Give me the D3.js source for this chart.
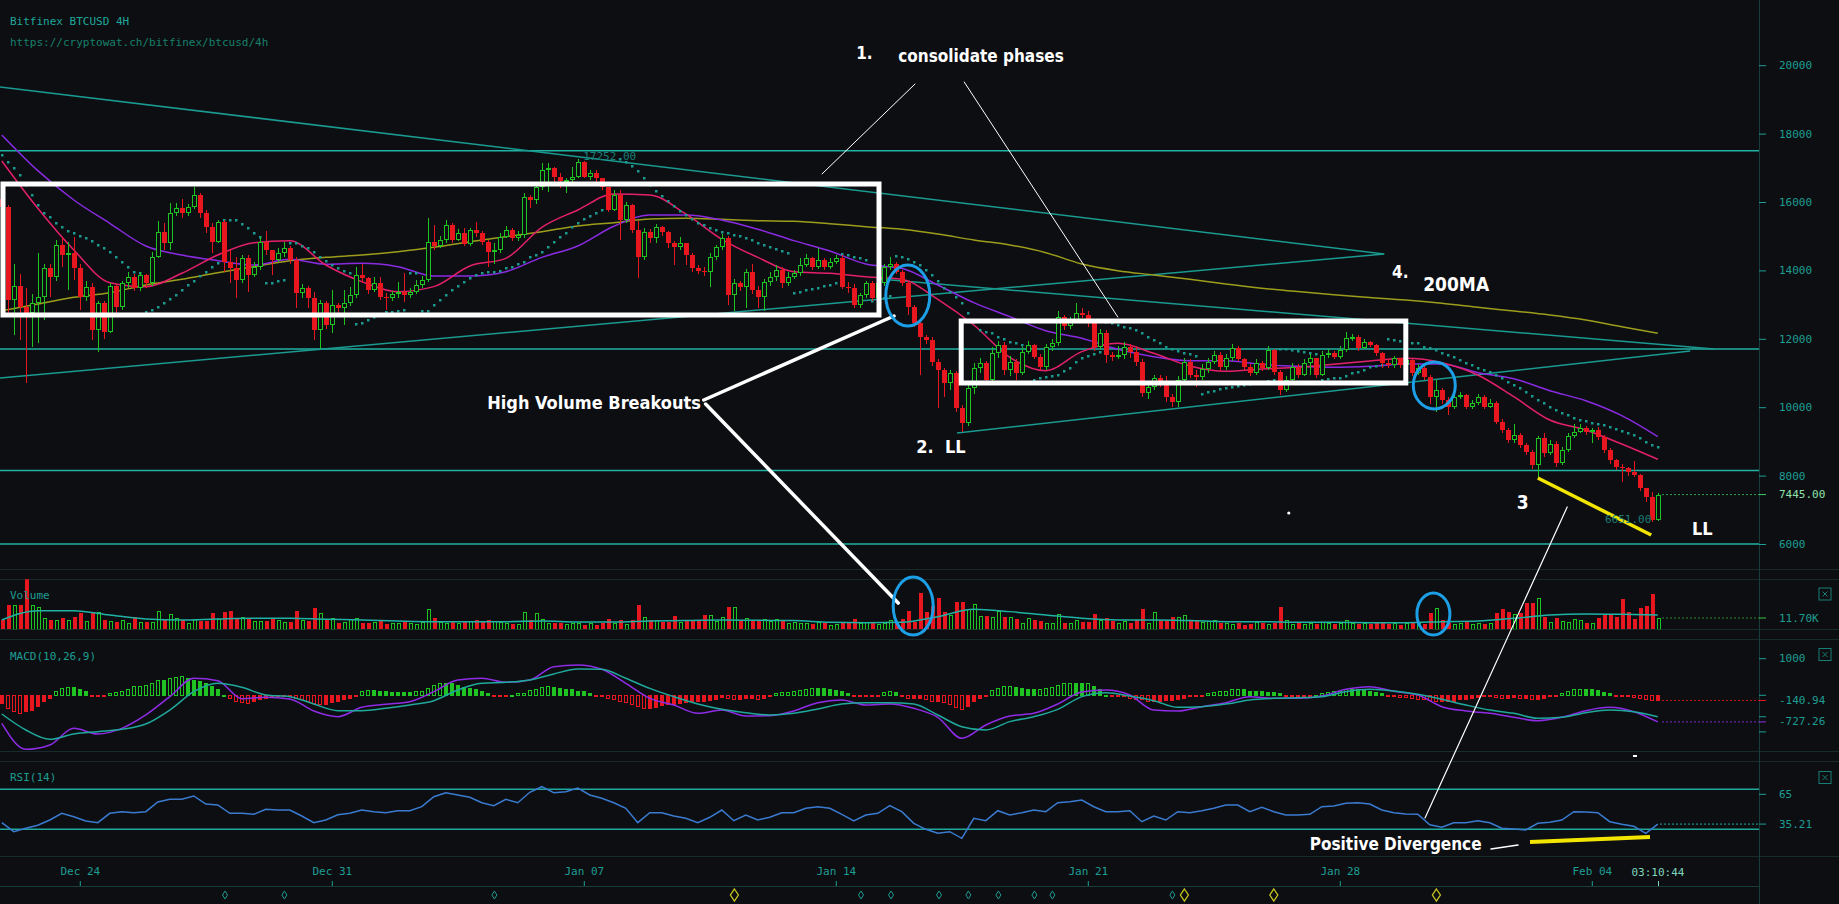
<!DOCTYPE html>
<html>
<head>
<meta charset="utf-8">
<title>Bitfinex BTCUSD 4H</title>
<script src="https://cdn.jsdelivr.net/npm/d3@7/dist/d3.min.js"></script>
<style>
  html, body { margin: 0; background: #0d0e12; overflow: hidden; }
  svg { display: block; }
  .mono { font-family: "DejaVu Sans Mono", monospace; font-size: 11px; }
  .note { font-family: "Liberation Sans Narrow", "DejaVu Sans Condensed", "Roboto", sans-serif; font-weight: bold; fill: #ffffff; }
</style>
</head>
<body>
<div id="chart"></div>
<script>
// ---- data (4H candles from Dec 21 2017 20:00 UTC, open = previous close) ----
const firstOpen = 16100;
const closes = [
  15860,13130,13530,12940,12750,13040,13230,14060,13820,14740,
  14450,14500,14060,13230,13520,12260,13040,12210,13530,12940,
  13620,13820,13480,13870,13620,14400,15130,14790,15670,15810,
  15670,15860,16200,15670,15280,14840,15420,14260,14060,13720,
  14350,13870,14110,14840,14600,14300,14500,14650,14300,13330,
  13480,13190,12260,13040,12400,12990,12890,13040,13280,13870,
  13770,13430,13620,13230,13180,13310,13380,13280,13380,13570,
  13720,14840,14710,14890,15330,14890,15080,14770,15180,15080,
  14840,14550,14600,14990,15180,14940,15040,16160,16060,16450,
  16940,17000,16740,16600,16650,16740,17180,16740,16840,16690,
  16450,15770,16200,15470,15910,15180,14400,15130,14940,15260,
  15130,14790,14690,14800,14450,14060,13990,13960,14400,14680,
  14940,13280,13620,13520,13960,13430,13230,13670,13820,14010,
  13620,13820,13930,14160,14350,14110,14300,14110,14260,14350,
  13520,13480,12990,13280,13620,13180,13620,14110,14200,13960,
  13620,12940,12450,12060,11970,11330,11090,10700,10990,9970,
  9530,10550,11140,11280,10800,11580,11820,11090,11330,10990,
  11620,11820,11480,11190,11770,11870,12650,12360,12550,12750,
  12700,12450,11770,12160,11530,11480,11530,11770,11620,11330,
  10410,10600,10840,10750,10310,10160,10800,11330,10950,10890,
  11110,11330,11530,11180,11430,11720,11420,11185,10990,11280,
  11135,11670,11040,10500,10795,11185,10940,11280,11430,10940,
  11525,11575,11477,11670,12013,12060,11720,11915,11818,11575,
  11280,11235,11430,11235,11380,10990,11135,10890,10307,10500,
  10210,10015,10307,10356,10015,10113,10307,10015,10132,9576,
  9333,9040,9187,8894,8700,8310,9089,8650,8923,8358,
  8748,9157,9284,9382,9284,9330,9138,8748,8455,8261,
  8212,8114,8017,7627,7383,6701,7445
];
const highs = [
  16300,15900,14200,13900,13500,13300,14500,14200,14200,14900,
  14990,14840,14990,14200,13700,13620,13100,13100,13620,13600,
  13700,13950,13900,13950,13900,14550,15430,15380,15960,15960,
  16080,15950,16450,16270,15770,15380,15470,15470,14600,14400,
  14450,14450,14250,14990,15160,14600,14650,14840,14700,14400,
  13600,13550,13380,13130,13100,13420,13050,13420,13520,14110,
  14200,13820,13820,13820,13330,13400,13670,13910,13500,13720,
  13850,15520,15330,15000,15470,15380,15200,15230,15230,15420,
  15150,14900,14800,15100,15300,15250,15150,16250,16200,16550,
  17130,17130,17030,16840,16700,17030,17252,17200,16950,16940,
  16650,16450,16350,16350,16000,15950,15450,15250,15200,15350,
  15300,15150,14850,14990,14800,14500,14150,14100,14500,14750,
  15050,15000,13750,13700,14050,14200,13550,13750,13950,14150,
  14100,13950,14000,14350,14480,14400,14650,14350,14350,14450,
  14450,13650,13600,13350,13700,13700,13800,14200,14400,14250,
  14000,13700,13000,12500,12100,12050,11400,11150,11100,11050,
  10050,10650,11300,11450,11350,11770,11950,11900,11500,11400,
  11750,11950,11850,11550,11850,12000,12800,12700,12650,13040,
  12900,12800,12500,12300,12250,11600,11800,11900,11850,11800,
  11400,10700,10950,10950,10900,10400,10900,11450,11400,11100,
  11250,11450,11650,11600,11550,11850,11800,11450,11250,11400,
  11350,11780,11700,11100,10900,11300,11250,11400,11550,11450,
  11650,11700,11650,11780,12200,12150,12100,12000,11950,11850,
  11600,11400,11500,11450,11450,11400,11250,11200,10950,10800,
  10550,10300,10400,10450,10400,10200,10400,10350,10250,10180,
  9650,9400,9500,9250,8950,8750,9150,9235,9050,9000,
  8850,9250,9500,9500,9450,9400,9420,9200,8800,8500,
  8350,8250,8420,8050,7650,7530,7500
];
const lows = [
  15600,12745,12100,11960,10700,11770,11870,12550,13230,13700,
  14110,13430,13720,12840,13100,11960,11620,12000,12160,12700,
  12840,13500,13400,13400,13500,13550,14350,14600,14600,15600,
  15520,15600,15800,15520,15080,14500,14800,13960,13620,13190,
  13620,13380,13800,14000,14450,13870,14250,14400,14200,12890,
  13200,12890,11960,11690,12300,12180,12750,12400,12950,13200,
  13620,13300,13380,13130,12840,13100,13200,13090,13200,13300,
  13480,13650,14600,14650,14800,14790,14850,14700,14700,14990,
  14750,14110,14200,14500,14950,14850,14850,14950,15820,15950,
  16350,16300,16550,16400,16250,16550,16700,16700,16650,16550,
  16350,15720,15750,14890,15400,15100,13770,14300,14800,14790,
  15000,14650,14160,14600,14160,13950,13900,13850,13520,14300,
  14600,12990,12800,13400,12890,13300,12890,12800,13550,13700,
  13500,13550,13750,13850,14100,14000,14050,14000,14050,14200,
  13450,13350,12890,12900,13200,13100,13100,13550,14000,13900,
  13550,12700,12350,10940,11850,11200,9970,10300,10500,9850,
  9285,9450,10400,11000,10700,10750,11450,10950,10900,10800,
  10950,11550,11400,11100,11100,11650,11800,12250,12300,12450,
  12600,12350,11650,11700,11300,11350,11400,11400,11450,11200,
  10300,10250,10500,10600,10150,10000,10000,10700,10850,10600,
  10800,11000,11250,11050,11100,11350,11350,11100,10900,10950,
  11050,11100,10950,10350,10450,10700,10850,10900,10950,10850,
  10900,11450,11400,11400,11600,11950,11650,11700,11750,11500,
  11150,11150,11150,11150,11200,10900,10950,10800,10100,9870,
  10100,9770,9950,10250,9950,9950,10050,9950,9980,9500,
  9250,8950,8950,8800,8600,8200,7900,8550,8600,8250,
  8300,8700,9100,9250,9200,8940,9050,8650,8350,8150,
  7820,8000,7950,7550,7240,6651,6680
];
// volume, thousands of BTC
const volumes = [
  9.7,25.2,25.2,25.2,51.8,25.2,23.5,11.4,9.7,9.7,
  11.4,9.7,13.1,16.6,9.0,18.3,18.3,9.7,9.0,7.9,
  9.7,6.2,12.4,7.9,7.9,7.9,19.0,9.7,15.9,11.4,
  9.7,6.9,10.4,9.0,9.0,16.6,10.4,17.9,19.0,11.4,
  12.4,10.4,9.0,9.0,9.0,10.4,9.7,7.9,7.9,19.0,
  9.7,9.0,21.7,16.6,9.7,11.4,6.2,7.9,10.4,11.4,
  6.9,6.2,7.9,9.0,5.5,6.2,6.9,7.9,6.9,5.5,
  7.9,20.7,11.4,7.9,6.9,9.0,6.9,7.9,9.0,9.7,
  9.0,9.7,9.0,7.9,6.9,5.5,5.5,17.9,9.7,16.6,
  10.4,6.9,6.2,6.9,5.5,6.2,6.9,4.5,6.2,4.5,
  6.2,10.4,6.9,9.7,5.5,9.7,25.2,12.4,9.7,9.7,
  7.9,7.9,13.8,7.9,9.0,9.7,9.0,14.8,14.8,9.0,
  13.1,23.5,23.5,9.0,11.4,9.7,9.0,10.4,9.0,10.4,
  9.0,6.9,7.9,6.9,6.2,5.5,7.9,6.2,4.5,5.5,
  7.9,6.2,10.4,6.2,7.9,6.9,5.5,6.2,9.7,6.2,
  10.4,19.3,7.9,37.3,18.3,24.2,32.1,18.3,14.8,28.6,
  28.6,20.7,26.2,13.8,13.8,13.1,19.3,13.1,12.4,10.4,
  6.9,11.4,9.7,9.0,6.9,6.9,15.9,6.9,6.2,9.7,
  7.9,7.9,15.9,9.7,11.4,9.0,6.9,9.0,6.9,9.7,
  20.7,6.2,18.3,9.7,9.7,13.1,13.1,14.8,9.7,9.7,
  7.9,9.0,9.7,6.9,6.2,5.5,6.9,4.5,5.5,7.9,
  6.9,5.5,6.9,23.5,9.7,5.5,6.2,5.5,6.2,5.5,
  7.9,6.2,5.5,6.2,9.7,6.9,5.5,6.2,5.2,7.9,
  6.2,5.5,6.2,4.5,6.9,6.2,6.2,5.5,16.6,21.7,
  9.7,6.9,5.5,6.2,7.9,5.5,6.2,5.5,6.9,17.3,
  20.7,18.3,15.9,16.6,26.9,27.6,32.1,13.1,7.9,11.4,
  9.0,7.9,10.4,9.7,6.9,6.2,11.4,14.8,14.8,13.1,
  31.1,18.3,10.4,21.7,24.2,36.6,11.7
];
// parabolic SAR dots, one per candle
const sar = [
  17374,17180,16985,16790,16497,16205,15913,15688,15552,15377,
  15260,15162,15084,15016,14938,14870,14743,14646,14548,14402,
  14256,14110,13963,13915,12794,12843,12920,13037,13154,13281,
  13427,13574,13700,13837,13963,14090,14226,15474,15474,15474,
  15357,15231,15104,14987,13623,13642,13691,13720,14792,14792,
  14714,14646,14529,14402,14285,14168,14061,13993,13915,12433,
  12472,12550,12628,12706,12794,12794,12813,12843,13915,13915,
  12823,12823,12989,13135,13281,13427,13544,13671,13768,13866,
  13934,13963,13963,13983,14061,14110,14187,14256,14382,14451,
  14548,14694,14840,14967,15104,15260,15396,15494,15591,15688,
  15766,15864,15950,17250,17180,17050,16900,16700,16500,16330,
  16170,16020,15880,15750,15630,15510,15400,15320,15250,15180,
  15120,15080,15036,15000,14950,14880,14800,14740,14680,14620,
  14560,14500,13330,13379,13420,13460,13500,13540,13580,13620,
  14480,14450,14400,14350,14300,13100,13150,13200,13250,14420,
  14380,14340,14260,14150,14010,13870,13700,13500,13379,13232,
  13037,12745,12500,12258,12209,12160,12063,11995,11917,11868,
  11819,11790,10796,10845,10874,10900,10950,11050,11150,11332,
  11430,11498,11546,11600,12500,12453,12400,12355,12307,12258,
  12160,12063,11965,11868,11770,11700,11640,11590,11550,11510,
  10400,10454,10483,10522,10551,10580,10610,10640,10670,10700,
  10730,10760,10790,11700,11690,11670,11640,11610,11580,11555,
  10795,10814,10843,10863,10912,10990,11019,11087,11185,11204,
  11233,11984,11964,11935,11916,11886,11867,11770,11721,11672,
  11594,11526,11458,11380,11302,11233,11155,11087,11019,10941,
  10843,10746,10649,10551,10454,10337,10210,10113,10015,9918,
  9840,9762,9674,9625,9596,9547,9508,9469,9411,9372,
  9313,9235,9187,9089,8991,8894,8826
];
// moving averages read every 6 candles
const MA_STEP = 6;
const pinkMA = [
  17200,15815,14597,13642,13525,13915,14451,14811,14870,14158,
  13671,13379,13525,14129,14353,15260,15766,16234,16205,15650,
  14909,14382,13963,13915,13817,13739,13154,12404,11458,11069,
  11624,11868,11575,11205,11050,11116,11165,11253,11350,11428,
  11302,10941,10307,9625,9333,8923,8475
];
const purpleMA = [
  17960,16916,16059,15377,14714,14451,14285,14158,14324,14178,
  14207,14110,13837,13837,13963,14382,14714,15290,15620,15620,
  15474,15201,14870,14568,14187,14060,13573,13057,12648,12238,
  12014,11693,11478,11361,11360,11253,11194,11165,11194,11263,
  11263,11009,10834,10483,10190,9752,9138
];
const ma200 = [
  12823,13018,13213,13349,13573,13739,13934,14110,14285,14382,
  14451,14548,14675,14840,14987,15133,15299,15396,15503,15523,
  15494,15455,15435,15367,15279,15201,15065,14889,14743,14519,
  14188,13993,13866,13739,13603,13480,13380,13290,13210,13134,
  13037,12920,12812,12695,12549,12354,12159
];
const volMA = [
  9.7,19.3,19.3,14.8,10.7,9.7,10.7,11.4,11.4,10.4,
  9.7,8.6,7.9,7.9,7.9,8.6,7.6,7.6,8.6,9.0,
  9.7,9.3,9.0,7.2,6.9,7.2,13.1,20.7,18.3,14.8,
  11.4,9.7,9.7,9.0,7.9,7.9,7.2,7.2,6.9,6.9,
  7.9,8.6,11.4,14.8,15.9,15.5,14.8
];
// MACD(10,26,9) lines read every 4 candles, histogram per candle
const MACD_STEP = 4;
const macdLine = [
  -766,-1476,-1357,-903,-1057,-903,-538,-37,464,400,
  -92,-56,-101,-429,-584,-329,-247,-174,99,418,
  464,354,418,782,828,710,327,-83,-265,-493,
  -402,-566,-556,-429,-201,-128,-265,-238,-356,-602,
  -1176,-812,-566,-493,-238,90,145,8,-402,-429,
  -311,-201,-37,-83,-83,-19,163,236,108,8,
  -311,-429,-493,-602,-693,-602,-420,-329,-447,-727.26
];
const signalLine = [
  -511,-948,-1203,-1057,-994,-930,-784,-402,99,327,
  218,8,-37,-238,-420,-420,-356,-265,-147,145,
  327,354,418,582,718,710,464,190,-37,-238,
  -383,-474,-538,-493,-374,-238,-201,-201,-238,-538,
  -857,-948,-720,-584,-383,-37,72,-19,-147,-329,
  -311,-238,-128,-83,-65,-37,99,163,117,26,
  -110,-265,-402,-493,-629,-602,-474,-402,-447,-586.32
];
const macdHist = [
  -219,-356,-447,-493,-447,-402,-311,-174,-83,99,
  190,218,218,145,99,-10,-37,-19,54,90,
  99,163,236,254,281,327,418,400,464,482,
  509,464,418,372,327,236,145,8,-83,-174,
  -201,-219,-174,-128,-83,-37,-37,-19,-37,-83,
  -128,-174,-219,-238,-238,-201,-174,-128,-83,-37,
  99,127,127,117,99,81,81,81,81,99,
  117,190,281,327,327,309,281,218,190,145,
  117,54,-19,-37,-19,8,36,54,127,163,
  218,236,218,190,163,145,117,99,54,-37,
  -37,-83,-128,-174,-201,-265,-311,-356,-356,-329,
  -292,-265,-238,-219,-201,-174,-174,-174,-147,-110,
  -56,-92,-110,-110,-92,-83,-110,-83,-37,54,
  72,90,99,127,163,190,190,190,163,127,
  99,54,-37,-37,-37,-37,-19,72,99,81,
  -19,-83,-83,-83,-128,-174,-174,-201,-265,-329,
  -383,-311,-174,-83,-19,127,190,236,254,218,
  190,163,145,163,190,218,281,309,327,327,
  309,327,254,145,8,-19,-37,-37,-83,-110,
  -128,-174,-174,-174,-147,-147,-128,-83,-37,-37,
  -37,54,72,99,117,145,163,145,117,99,
  99,90,72,36,-19,-37,-19,-37,-19,8,
  54,72,99,117,145,145,145,127,99,72,
  36,-19,-37,-56,-65,-83,-110,-128,-147,-174,
  -174,-174,-156,-128,-110,-83,-65,-37,-37,-65,
  -83,-83,-65,-83,-83,-128,-128,-83,-37,-37,
  54,99,145,163,163,163,127,81,36,-19,
  -37,-37,-65,-83,-110,-147,-140.94
];
// RSI(14) read every 2 candles
const RSI_STEP = 2;
const rsi = [
  36.6,27.6,31.0,34.0,39.3,46.0,42.6,38.3,36.6,46.0,
  47.6,46.6,47.6,57.3,60.0,60.0,63.3,55.3,54.3,46.0,
  46.0,45.0,50.0,49.3,49.3,43.3,36.6,39.3,44.6,46.0,
  49.3,47.6,46.6,48.6,48.6,52.6,62.6,66.6,64.3,62.0,
  56.6,53.6,60.0,56.6,67.0,72.6,66.6,67.6,71.3,64.3,
  61.0,56.6,51.0,36.6,46.6,46.6,43.3,41.0,36.6,42.0,
  49.3,38.6,44.3,39.3,42.0,46.6,46.6,51.0,52.6,51.0,
  45.0,38.3,44.3,46.0,53.6,47.6,36.0,30.0,26.0,27.6,
  21.0,41.0,38.6,48.6,44.3,46.6,49.3,47.6,56.6,57.6,
  59.3,52.6,47.6,47.6,48.6,37.6,43.3,39.3,47.6,46.6,
  48.6,51.0,54.3,54.3,47.6,52.0,47.6,44.3,44.3,45.0,
  52.6,53.3,56.0,56.6,55.3,49.3,46.6,45.3,45.0,34.6,
  32.0,36.6,36.6,38.6,36.6,31.0,30.3,29.3,36.0,37.0,
  39.3,47.6,47.3,46.6,37.6,35.0,33.0,26.0,35.21
];
const priceTicks = [20000, 18000, 16000, 14000, 12000, 10000, 8000, 6000];
const levels = [17500, 11700, 8150, 6000];
// trend lines in [candle, price]
const trendLines = [
  [[-0.3, 19363], [230.4, 14480]],
  [[-0.3, 10854], [230.4, 14480]],
  [[146.2, 13749], [285.4, 11702]],
  [[159.2, 9246], [281.4, 11643]]
];
const eventsTeal = [37.2, 47.1, 82.1, 143.2, 148.2, 156.2, 161.1, 166.1, 172.1, 175.1, 195.1];
const eventsYellow = [122.1, 197.1, 212.0, 239.1];

// ---- layout ----
const W = 1839, H = 904, AX = 1759;
const BG = "#0d0e12", TEAL = "#1e9e93", GREEN = "#20c422", RED = "#e8161e";
const P = {
  main: [0, 569.3], vol: [579.3, 629.3], macd: [639.3, 751.3], rsi: [761.3, 856]
};
const N = closes.length;
const t0 = Date.UTC(2017, 11, 21, 20);
const H4 = 4 * 3600 * 1000;
const x = d3.scaleUtc()
  .domain([new Date(t0), new Date(t0 + (N - 1) * H4)])
  .range([1.8, 1657.8]);
const bx = i => x(new Date(t0 + i * H4));
const px = i => Math.round(bx(i));
const y = d3.scaleLinear().domain([6000, 20000]).range([544, 65.2]);
const yv = d3.scaleLinear().domain([0, 11.7]).range([629.3, 618]);
const ym = d3.scaleLinear().domain([0, 1000]).range([695.3, 658.7]);
const yr = d3.scaleLinear().domain([30, 70]).range([829.3, 789.3]);

const candles = closes.map((c, i) => {
  const o = i ? closes[i - 1] : firstOpen;
  return { i, o, c, h: Math.max(highs[i], o, c), l: Math.min(lows[i], o, c), v: volumes[i], up: c >= o };
});

const svg = d3.select("#chart").append("svg").attr("width", W).attr("height", H);
svg.append("rect").attr("width", W).attr("height", H).attr("fill", BG);
const defs = svg.append("defs");
function panel(id, [top, bottom]) {
  defs.append("clipPath").attr("id", id).append("rect")
    .attr("x", 0).attr("y", top).attr("width", AX).attr("height", bottom - top);
  return svg.append("g").attr("clip-path", `url(#${id})`);
}

// separators
[569.3, 579.3, 629.3, 639.3, 751.3, 761.3, 856].forEach(v => {
  svg.append("line").attr("x1", 0).attr("x2", W).attr("y1", Math.round(v) + 0.5).attr("y2", Math.round(v) + 0.5)
    .attr("stroke", "#182b2b").attr("stroke-width", 1);
});

// ---- main panel ----
const gm = panel("clipMain", P.main);
gm.selectAll(".lvl").data(levels).join("line")
  .attr("x1", 0).attr("x2", AX).attr("y1", d => y(d)).attr("y2", d => y(d))
  .attr("stroke", "#1fb2a5").attr("stroke-width", 1.4);
gm.selectAll(".trend").data(trendLines).join("line")
  .attr("x1", d => bx(d[0][0])).attr("y1", d => y(d[0][1]))
  .attr("x2", d => bx(d[1][0])).attr("y2", d => y(d[1][1]))
  .attr("stroke", "#1a9a90").attr("stroke-width", 1.5);

function maLine(values, step, color, g, ys, curve) {
  g.append("path")
    .datum(values.map((v, j) => [j * step, v]))
    .attr("fill", "none").attr("stroke", color).attr("stroke-width", 1.5)
    .attr("d", d3.line().x(d => bx(d[0])).y(d => ys(d[1])).curve(curve || d3.curveMonotoneX));
}
maLine(ma200, MA_STEP, "#9d9d1c", gm, y);
maLine(purpleMA, MA_STEP, "#8a2be2", gm, y);
maLine(pinkMA, MA_STEP, "#e3206c", gm, y);

gm.selectAll(".sar").data(sar).join("rect")
  .attr("x", (d, i) => px(i) - 1).attr("y", d => Math.round(y(d)) - 1)
  .attr("width", 2.5).attr("height", 2.5).attr("fill", "#1a9a90");

const cg = gm.append("g").attr("shape-rendering", "crispEdges");
cg.selectAll(".wick").data(candles).join("path")
  .attr("stroke", d => d.up ? GREEN : RED).attr("stroke-width", 1)
  .attr("d", d => {
    const X = px(d.i) + 0.5;
    return `M${X},${y(d.h)}V${y(Math.max(d.o, d.c))}M${X},${y(Math.min(d.o, d.c))}V${y(d.l)}`;
  });
cg.selectAll(".body").data(candles).join("rect")
  .attr("x", d => d.up ? px(d.i) - 1.5 : px(d.i) - 2)
  .attr("width", d => d.up ? 4 : 5)
  .attr("y", d => y(Math.max(d.o, d.c)) + (d.up ? 0.5 : 0))
  .attr("height", d => Math.max(1, Math.abs(y(d.o) - y(d.c)) - (d.up ? 1 : 0)))
  .attr("fill", d => d.up ? BG : RED)
  .attr("stroke", d => d.up ? GREEN : "none").attr("stroke-width", 1);

// last price
const last = candles[N - 1];
gm.append("line").attr("x1", px(N - 1) + 4).attr("x2", AX).attr("y1", y(last.c)).attr("y2", y(last.c))
  .attr("stroke", "#2f9f4d").attr("stroke-dasharray", "2,2");

// annotations in the main panel
const boxes = [[[0.2, 16526], [146.2, 12696]], [[159.9, 12520], [234.0, 10708]]];
gm.selectAll(".box").data(boxes).join("rect")
  .attr("x", d => bx(d[0][0])).attr("y", d => y(d[0][1]))
  .attr("width", d => bx(d[1][0]) - bx(d[0][0])).attr("height", d => y(d[1][1]) - y(d[0][1]))
  .attr("fill", "none").attr("stroke", "#ffffff").attr("stroke-width", 5);
gm.append("line")
  .attr("x1", bx(256)).attr("y1", y(7930)).attr("x2", bx(274.9)).attr("y2", y(6263))
  .attr("stroke", "#f2e600").attr("stroke-width", 3.5);
gm.append("text").attr("class", "mono").attr("x", bx(96.9)).attr("y", y(17316))
  .attr("dominant-baseline", "central").attr("fill", "#1b7d75").text("17252.00");
gm.append("text").attr("class", "mono").attr("x", bx(267.2)).attr("y", y(6707))
  .attr("dominant-baseline", "central").attr("fill", "#1b7d75").text("6651.00");

// ---- volume ----
const gv = panel("clipVol", P.vol);
gv.append("g").attr("shape-rendering", "crispEdges").selectAll("rect").data(candles).join("rect")
  .attr("x", d => d.up ? px(d.i) - 1 : px(d.i) - 1.5)
  .attr("width", d => d.up ? 3 : 4)
  .attr("y", d => yv(d.v) + (d.up ? 0.5 : 0))
  .attr("height", d => Math.max(1, yv(0) - yv(d.v) - (d.up ? 0.5 : 0)))
  .attr("fill", d => d.up ? BG : RED)
  .attr("stroke", d => d.up ? GREEN : "none");
maLine(volMA, MA_STEP, "#1fb2a5", gv, yv);
gv.append("line").attr("x1", px(N - 1) + 4).attr("x2", AX).attr("y1", yv(last.v)).attr("y2", yv(last.v))
  .attr("stroke", "#2a8a3a").attr("stroke-dasharray", "2,2");

// ---- MACD ----
const gd = panel("clipMacd", P.macd);
gd.append("g").attr("shape-rendering", "crispEdges").selectAll("rect").data(macdHist).join("rect")
  .attr("x", (d, i) => px(i) - 1.5)
  .attr("width", 3)
  .attr("y", d => Math.min(ym(d), ym(0)))
  .attr("height", d => Math.max(1, Math.abs(ym(d) - ym(0))))
  .attr("fill", (d, i) => {
    const grow = i > 0 && Math.abs(d) > Math.abs(macdHist[i - 1]);
    return grow ? BG : (d >= 0 ? GREEN : RED);
  })
  .attr("stroke", d => d >= 0 ? GREEN : RED).attr("stroke-width", 1);
maLine(macdLine, MACD_STEP, "#8e2ce6", gd, ym);
maLine(signalLine, MACD_STEP, "#1fa89b", gd, ym);
const lastHist = macdHist[macdHist.length - 1];
const lastMacd = macdLine[macdLine.length - 1];
const lastSig = signalLine[signalLine.length - 1];
gd.append("line").attr("x1", px(N - 1) + 4).attr("x2", AX).attr("y1", ym(lastHist)).attr("y2", ym(lastHist))
  .attr("stroke", "#c8141c").attr("stroke-dasharray", "2,2");
gd.append("line").attr("x1", px(N - 1) + 4).attr("x2", AX).attr("y1", ym(lastMacd)).attr("y2", ym(lastMacd))
  .attr("stroke", "#7a28c8").attr("stroke-dasharray", "2,2");

// ---- RSI ----
const gr = panel("clipRsi", P.rsi);
gr.selectAll(".band").data([70, 30]).join("line")
  .attr("x1", 0).attr("x2", AX).attr("y1", d => yr(d)).attr("y2", d => yr(d))
  .attr("stroke", "#1fa89b").attr("stroke-width", 1.5);
maLine(rsi, RSI_STEP, "#3a7bd0", gr, yr, d3.curveLinear);
const lastRsi = rsi[rsi.length - 1];
gr.append("line").attr("x1", px(N - 1) + 2).attr("x2", AX).attr("y1", yr(lastRsi)).attr("y2", yr(lastRsi))
  .attr("stroke", "#1fa89b").attr("stroke-dasharray", "2,2");
gr.append("line").attr("x1", bx(254.7)).attr("y1", yr(17.3)).attr("x2", bx(274.7)).attr("y2", yr(22.3))
  .attr("stroke", "#f2e600").attr("stroke-width", 4);

// ---- panel labels ----
const label = (tx, ty, s, fill) => svg.append("text").attr("class", "mono").attr("x", tx).attr("y", ty)
  .attr("dominant-baseline", "central").attr("fill", fill || TEAL).text(s);
label(10, 21, "Bitfinex BTCUSD 4H", "#1fa89b");
label(10, 42, "https://cryptowat.ch/bitfinex/btcusd/4h", "#17806a");
label(10, 595, "Volume");
label(10, 656, "MACD(10,26,9)");
label(10, 777, "RSI(14)");

// ---- right axis ----
svg.append("line").attr("x1", AX + 0.5).attr("x2", AX + 0.5).attr("y1", 0).attr("y2", H)
  .attr("stroke", "#173c39");
const ra = svg.append("g").attr("transform", `translate(${AX},0)`)
  .call(d3.axisRight(y).tickValues(priceTicks).tickSize(7).tickPadding(13).tickFormat(d3.format("d")));
ra.select(".domain").remove();
ra.selectAll("line").attr("stroke", TEAL);
ra.selectAll("text").attr("class", "mono").attr("fill", TEAL).attr("font-family", null).attr("font-size", null);

function tag(v, ys, text, tickColor, textColor) {
  svg.append("line").attr("x1", AX).attr("x2", AX + 7).attr("y1", ys(v)).attr("y2", ys(v)).attr("stroke", tickColor);
  if (text) label(AX + 20, ys(v), text, textColor || TEAL);
}
tag(last.c, y, "7445.00", "#3fcf6a", "#8fe3aa");
tag(last.v, yv, "11.70K", "#36c23e");
tag(1000, ym, "1000", TEAL);
tag(0, ym, null, TEAL);
tag(-1000, ym, null, TEAL);
tag(lastSig, ym, null, TEAL);
tag(lastHist, ym, "-140.94", "#e8161e");
tag(lastMacd, ym, "-727.26", "#8e2ce6");
tag(65, yr, "65", TEAL);
tag(lastRsi, yr, "35.21", TEAL);

// close buttons
[594, 654.5, 777.5].forEach(cy => {
  const b = svg.append("g").attr("transform", `translate(1825,${cy})`).attr("stroke", "#1a7c74").attr("fill", "none");
  b.append("rect").attr("x", -6).attr("y", -6).attr("width", 12).attr("height", 12);
  b.append("path").attr("d", "M-2.5,-2.5L2.5,2.5M2.5,-2.5L-2.5,2.5");
});

// ---- time axis ----
const axisY = 886;
svg.append("line").attr("x1", 0).attr("x2", AX).attr("y1", axisY + 0.5).attr("y2", axisY + 0.5).attr("stroke", "#173c39");
const ta = svg.append("g").attr("transform", `translate(0,${axisY})`)
  .call(d3.axisTop(x).ticks(d3.utcSunday.every(1)).tickSize(5).tickPadding(6).tickFormat(d3.utcFormat("%b %d")));
ta.select(".domain").remove();
ta.selectAll("line").attr("stroke", TEAL);
ta.selectAll("text").attr("class", "mono").attr("fill", TEAL).attr("font-family", null).attr("font-size", null);
svg.append("line").attr("x1", px(N - 1) + 0.5).attr("x2", px(N - 1) + 0.5).attr("y1", axisY - 5).attr("y2", axisY)
  .attr("stroke", "#7fd6bd");
svg.append("text").attr("class", "mono").attr("x", px(N - 1)).attr("y", 872).attr("text-anchor", "middle")
  .attr("dominant-baseline", "central").attr("fill", "#7fd6bd").text("03:10:44");

const diamond = (s, w) => `M0,${-s}L${w},0L0,${s}L${-w},0Z`;
svg.selectAll(".evT").data(eventsTeal).join("path")
  .attr("transform", d => `translate(${bx(d)},895)`).attr("d", diamond(4, 2.5))
  .attr("fill", "none").attr("stroke", "#1a9a90").attr("stroke-width", 1);
svg.selectAll(".evY").data(eventsYellow).join("path")
  .attr("transform", d => `translate(${bx(d)},895)`).attr("d", diamond(6, 4))
  .attr("fill", "none").attr("stroke", "#c8c81e").attr("stroke-width", 1.3);

// ---- hand drawn notes ----
const ann = svg.append("g");
const seg = (a, b, w) => ann.append("line").attr("x1", a[0]).attr("y1", a[1]).attr("x2", b[0]).attr("y2", b[1])
  .attr("stroke", "#ffffff").attr("stroke-width", w).attr("stroke-linecap", "round");
seg([bx(152.2), y(19450)], [bx(136.7), y(16819)], 1);
seg([bx(160.4), y(19509)], [bx(186.0), y(12637)], 1);
seg([bx(117.0), y(10211)], [bx(148.7), y(12667)], 3.5);
seg([bx(117.3), y(10094)], [bx(149.4), yv(27.2)], 3.5);
seg([bx(260.9), y(7082)], [bx(237.2), yr(41.3)], 1.2);
seg([bx(248.2), yr(10.3)], [bx(252.7), yr(14.3)], 1.5);

const ellipses = [
  [bx(151.0), y(13266), 22, 30.5],
  [bx(238.75), y(10635), 21, 23.5],
  [bx(151.9), yv(24.1), 20, 29],
  [bx(238.6), yv(15.8), 16.5, 21]
];
ann.selectAll("ellipse").data(ellipses).join("ellipse")
  .attr("cx", d => d[0]).attr("cy", d => d[1]).attr("rx", d => d[2]).attr("ry", d => d[3])
  .attr("fill", "none").attr("stroke", "#1c9fe6").attr("stroke-width", 3);

const note = (tx, ty, s, size, fill) => ann.append("text").attr("class", "note")
  .attr("x", tx).attr("y", ty).attr("dominant-baseline", "central")
  .attr("font-size", size).attr("fill", fill || "#ffffff").text(s);
note(bx(142.4), y(20357), "1.", 17);
note(bx(149.4), y(20269), "consolidate phases", 17);
note(bx(80.9), y(10152), "High Volume Breakouts", 18);
note(bx(152.4), y(8865), "2.", 18);
note(bx(157.2), y(8865), "LL", 18);
note(bx(252.5), y(7228), "3", 19);
note(bx(281.7), y(6439), "LL", 18);
note(bx(231.7), y(13953), "4.", 17);
note(bx(236.9), y(13602), "200MA", 19, "#f5e61a");
note(bx(218.0), yr(15.3), "Positive Divergence", 17);
ann.append("circle").attr("cx", bx(214.5)).attr("cy", y(6906)).attr("r", 1.6).attr("fill", "#ffffff");
ann.append("rect").attr("x", bx(272.2) - 2).attr("y", ym(-1658) - 1).attr("width", 4).attr("height", 2).attr("fill", "#ffffff");
</script>
</body>
</html>
